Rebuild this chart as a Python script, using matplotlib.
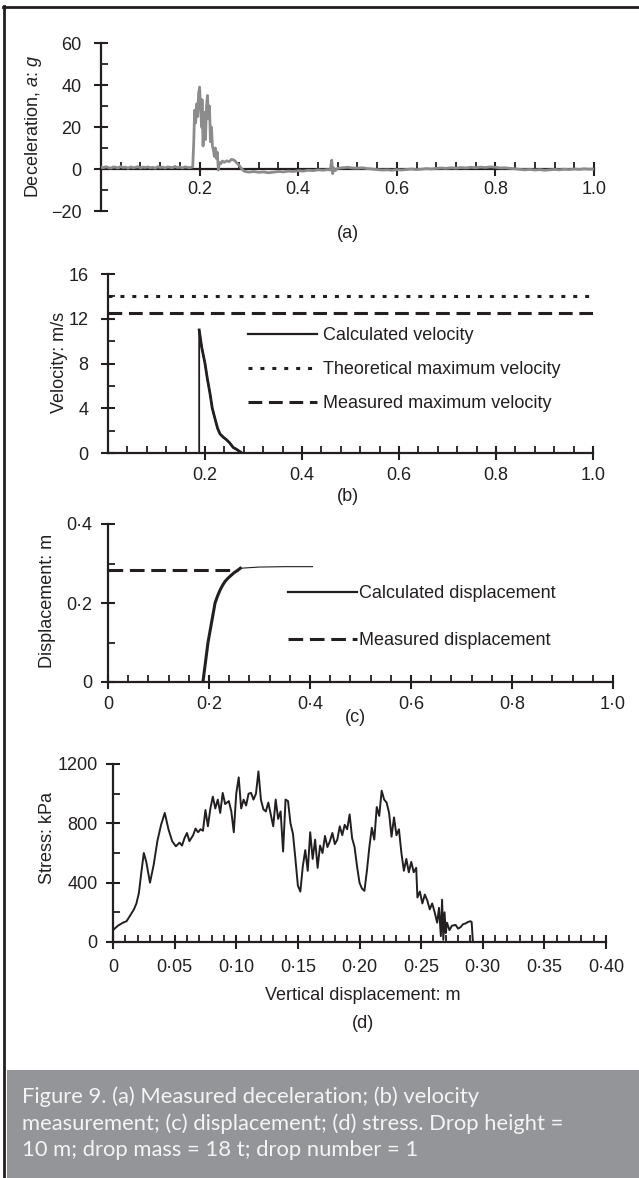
import matplotlib
matplotlib.use("Agg")
import matplotlib.pyplot as plt
from matplotlib.lines import Line2D
from matplotlib.patches import Rectangle
from matplotlib.ticker import MultipleLocator, FixedLocator, FuncFormatter

plt.rcParams['font.family'] = ['Liberation Sans', 'DejaVu Sans']
plt.rcParams['mathtext.fontset'] = 'custom'
plt.rcParams['mathtext.it'] = 'Liberation Sans:italic'
plt.rcParams['mathtext.rm'] = 'Liberation Sans'

INK = '#231f20'
GREY_TRACE = '#8c8c8c'
FS = 13

# (a) measured deceleration, g
acc_t = [0.000, 0.005, 0.010, 0.015, 0.020, 0.025, 0.030, 0.035, 0.040, 0.045,
         0.050, 0.055, 0.060, 0.065, 0.070, 0.075, 0.080, 0.085, 0.090, 0.095,
         0.100, 0.105, 0.110, 0.115, 0.120, 0.125, 0.130, 0.135, 0.140, 0.145,
         0.150, 0.155, 0.160, 0.165, 0.170, 0.175, 0.180, 0.185,
         0.186, 0.188, 0.190, 0.192, 0.194, 0.196, 0.198, 0.200, 0.202, 0.204,
         0.205, 0.207, 0.209, 0.211, 0.212, 0.214, 0.216, 0.218, 0.220, 0.222,
         0.224, 0.226, 0.228, 0.230, 0.232, 0.234, 0.236, 0.238, 0.240, 0.243,
         0.246, 0.250, 0.255, 0.260, 0.265, 0.270, 0.275, 0.280, 0.285, 0.290,
         0.295, 0.300, 0.310, 0.320, 0.330, 0.340, 0.350, 0.360, 0.370, 0.380,
         0.390, 0.400, 0.410, 0.420, 0.430, 0.440, 0.450, 0.460, 0.465, 0.468,
         0.470, 0.472, 0.475, 0.480, 0.490, 0.500, 0.510, 0.520, 0.530, 0.540,
         0.550, 0.560, 0.570, 0.580, 0.590, 0.600, 0.610, 0.620, 0.630, 0.640,
         0.650, 0.660, 0.670, 0.680, 0.690, 0.700, 0.710, 0.720, 0.730, 0.740,
         0.750, 0.760, 0.770, 0.780, 0.790, 0.800, 0.810, 0.820, 0.830, 0.840,
         0.850, 0.860, 0.870, 0.880, 0.890, 0.900, 0.910, 0.920, 0.930, 0.940,
         0.950, 0.960, 0.970, 0.980, 0.990, 1.000]
acc_g = [0.9, 0.6, 1.1, 0.7, 0.4, 1.0, 0.8, 0.5, 1.2, 0.7,
         0.9, 0.4, 1.0, 0.6, 0.8, 1.1, 0.5, 0.9, 0.7, 1.0,
         0.6, 0.8, 0.4, 1.1, 0.7, 0.9, 0.5, 1.0, 0.8, 0.6,
         1.2, 0.7, 0.9, 0.5, 1.0, 0.8, 0.6, 0.9,
         1.0, 12.0, 28.0, 22.0, 31.0, 25.0, 36.0, 39.0, 30.0, 20.0,
         33.0, 11.0, 22.0, 27.0, 14.0, 30.0, 35.0, 24.0, 30.0, 13.0,
         20.0, 11.0, 9.0, 6.0, 10.0, 5.0, 8.0, -0.5, 3.0, 2.5,
         3.8, 3.2, 3.9, 3.5, 4.6, 4.2, 3.0, 1.8, 0.2, -1.0,
         -1.3, -1.5, -1.2, -1.6, -1.4, -1.8, -1.5, -1.2, -1.4, -1.0,
         -1.2, -0.8, -1.0, -0.6, -0.8, -0.4, -0.6, -0.3, -0.5, 4.2,
         -2.2, 0.5, -0.8, 0.3, 0.6, 0.8, 0.5, 0.4, 0.6, 0.2,
         0.0, -0.3, -0.5, -0.4, -0.6, -0.3, -0.5, -0.2, 0.0, -0.3,
         -0.1, 0.2, 0.0, 0.3, 0.5, 0.3, 0.6, 0.4, 0.7, 0.5,
         0.8, 0.6, 0.9, 0.7, 1.0, 0.8, 0.5, 0.6, 0.3, 0.1,
         -0.2, -0.4, -0.2, -0.5, -0.3, -0.6, -0.4, -0.2, -0.4, -0.1,
         -0.3, 0.0, -0.2, 0.1, -0.1, 0.0]

# (b) velocity, m/s
vel_t = [0.188, 0.188, 0.193, 0.200, 0.205, 0.210, 0.215, 0.221, 0.226, 0.231,
         0.238, 0.244, 0.251, 0.258, 0.266, 0.276]
vel_v = [0.0, 11.0, 9.5, 8.0, 6.6, 5.4, 4.0, 3.0, 2.2, 1.7,
         1.4, 1.2, 0.9, 0.5, 0.3, 0.0]
v_theoretical = 14.0
v_measured = 12.5

# (c) displacement, m
disp_t = [0.188, 0.193, 0.198, 0.205, 0.212, 0.217, 0.222, 0.227, 0.232, 0.237,
          0.242, 0.250, 0.257, 0.262, 0.300, 0.350, 0.405]
disp_m = [0.0, 0.05, 0.10, 0.15, 0.20, 0.218, 0.233, 0.245, 0.255, 0.262,
          0.268, 0.277, 0.283, 0.288, 0.291, 0.292, 0.292]
n_thick = 14
d_measured = 0.284
d_measured_x = [0.0, 0.258]

# (d) stress, kPa
stress_x = [0.000, 0.004, 0.008, 0.011, 0.014, 0.017, 0.019, 0.021, 0.023, 0.025,
            0.027, 0.030, 0.033, 0.036, 0.039, 0.042, 0.045, 0.048, 0.051, 0.054,
            0.056, 0.058, 0.060, 0.062, 0.065, 0.067, 0.069, 0.071, 0.073, 0.075,
            0.077, 0.079, 0.081, 0.083, 0.085, 0.087, 0.089, 0.091, 0.094, 0.096,
            0.098, 0.100, 0.102, 0.104, 0.106, 0.108, 0.110, 0.112, 0.114, 0.116,
            0.118, 0.120, 0.122, 0.124, 0.126, 0.128, 0.130, 0.132, 0.134, 0.136,
            0.138, 0.140, 0.142, 0.144, 0.146, 0.148, 0.150, 0.152, 0.154, 0.156,
            0.158, 0.160, 0.162, 0.164, 0.166, 0.168, 0.170, 0.172, 0.174, 0.176,
            0.178, 0.180, 0.182, 0.184, 0.186, 0.188, 0.190, 0.192, 0.194, 0.196,
            0.198, 0.200, 0.202, 0.204, 0.206, 0.208, 0.210, 0.212, 0.214, 0.216,
            0.218, 0.220, 0.222, 0.224, 0.226, 0.228, 0.230, 0.232, 0.234, 0.236,
            0.238, 0.240, 0.242, 0.244, 0.246, 0.247, 0.249, 0.251, 0.253, 0.255,
            0.257, 0.259, 0.261, 0.263, 0.2645, 0.266, 0.267, 0.268, 0.269, 0.270,
            0.271, 0.273, 0.275, 0.278, 0.280, 0.282, 0.284, 0.286, 0.288, 0.290,
            0.291, 0.292]
stress_kpa = [80, 110, 130, 140, 180, 220, 260, 330, 470, 600,
              540, 400, 520, 680, 790, 870, 760, 680, 645, 670,
              650, 700, 735, 680, 720, 765, 740, 760, 750, 890,
              780, 900, 980, 900, 960, 870, 1005, 930, 950, 880,
              740, 1000, 1110, 900, 960, 920, 1000, 1005, 960, 1000,
              1150, 960, 895, 880, 940, 860, 780, 960, 830, 880,
              610, 960, 950, 800, 730, 560, 380, 340, 510, 620,
              480, 740, 560, 690, 500, 650, 600, 715, 640, 680,
              735, 660, 690, 780, 720, 790, 760, 860, 700, 640,
              510, 400, 360, 345, 480, 640, 770, 690, 910, 850,
              1020, 960, 940, 870, 710, 840, 720, 760, 600, 480,
              560, 470, 540, 470, 500, 300, 340, 260, 320, 280,
              220, 260, 200, 130, 230, 40, 285, 15, 200, 60,
              130, 80, 110, 115, 90, 100, 120, 125, 135, 140,
              135, 0]

W, H = 639, 1178
fig = plt.figure(figsize=(W / 100, H / 100), dpi=100)


def make_axes(x0, x1, ytop, ybot):
    return fig.add_axes([x0 / W, 1 - ybot / H, (x1 - x0) / W, (ybot - ytop) / H])


def style(ax, xpad, ypad):
    for s in ['top', 'right']:
        ax.spines[s].set_visible(False)
    for s in ['left', 'bottom']:
        ax.spines[s].set_linewidth(1.6)
        ax.spines[s].set_color(INK)
    ax.tick_params(which='major', direction='inout', length=10, width=1.5,
                   colors=INK, labelsize=FS, labelcolor=INK)
    ax.tick_params(which='minor', direction='in', length=5, width=1.3, colors=INK)
    ax.tick_params(axis='x', which='major', pad=xpad)
    ax.tick_params(axis='y', which='major', pad=ypad)
    ax.set_facecolor('none')


def dot_fmt(fmt):
    return FuncFormatter(lambda v, p: '0' if abs(v) < 1e-9 else (fmt % v).replace('.', '\u00b7'))


# ---- (a)
ax = make_axes(101, 594, 43, 211)
style(ax, 4, 9)
ax.spines['bottom'].set_position(('data', 0))
ax.plot(acc_t, acc_g, color=GREY_TRACE, lw=2.0, zorder=3)
ax.set_xlim(0, 1.0)
ax.set_ylim(-20, 60)
ax.xaxis.set_major_locator(FixedLocator([0.2, 0.4, 0.6, 0.8, 1.0]))
ax.xaxis.set_minor_locator(FixedLocator([0.04 * i for i in range(1, 25) if i % 5]))
ax.xaxis.set_major_formatter(FuncFormatter(lambda v, p: '%.1f' % v))
ax.yaxis.set_major_locator(MultipleLocator(20))
ax.yaxis.set_minor_locator(MultipleLocator(10))
fig.text(33 / W, 1 - 127 / H, 'Deceleration, $a$: $g$', rotation=90,
         ha='center', va='center', fontsize=FS, color=INK)
fig.text(348 / W, 1 - 233 / H, '(a)', ha='center', va='center', fontsize=FS, color=INK)

# ---- (b)
ax = make_axes(108, 593, 274, 453)
style(ax, 5, 9)
ax.plot(vel_t, vel_v, color=INK, lw=1.3, label='Calculated velocity')
ax.plot(vel_t[1:], vel_v[1:], color=INK, lw=2.0)
ax.axhline(v_theoretical, color=INK, lw=2.2, linestyle=(0, (1.3, 2.6)),
           label='Theoretical maximum velocity')
ax.axhline(v_measured, color=INK, lw=2.2, linestyle=(0, (4.5, 2.2)),
           label='Measured maximum velocity')
ax.set_xlim(0, 1.0)
ax.set_ylim(0, 16)
ax.xaxis.set_major_locator(FixedLocator([0.2, 0.4, 0.6, 0.8, 1.0]))
ax.xaxis.set_minor_locator(FixedLocator([0.04 * i for i in range(1, 25) if i % 5]))
ax.xaxis.set_major_formatter(FuncFormatter(lambda v, p: '%.1f' % v))
ax.yaxis.set_major_locator(MultipleLocator(4))
ax.yaxis.set_minor_locator(MultipleLocator(2))
h = ax.get_legend_handles_labels()
leg = ax.legend(*h, loc='upper left', bbox_to_anchor=((248 - 108) / 485, (453 - 327) / 179),
                frameon=False, fontsize=FS, handlelength=3.8, handletextpad=0.33,
                labelspacing=0.94, borderpad=0, borderaxespad=0)
for t in leg.get_texts():
    t.set_color(INK)
leg.get_lines()[0].set_linewidth(1.6)
fig.text(59 / W, 1 - 362 / H, 'Velocity: m/s', rotation=90,
         ha='center', va='center', fontsize=FS, color=INK)
fig.text(348 / W, 1 - 497 / H, '(b)', ha='center', va='center', fontsize=FS, color=INK)

# ---- (c)
ax = make_axes(108, 613, 524, 682)
style(ax, 5, 6)
ax.plot(disp_t[:n_thick], disp_m[:n_thick], color=INK, lw=2.2, label='Calculated displacement')
ax.plot(disp_t[n_thick - 1:], disp_m[n_thick - 1:], color=INK, lw=0.8)
ax.plot(d_measured_x, [d_measured, d_measured], color=INK, lw=2.2,
        linestyle=(0, (4.8, 2.2)), label='Measured displacement')
ax.set_xlim(0, 1.0)
ax.set_ylim(0, 0.4)
ax.xaxis.set_major_locator(MultipleLocator(0.2))
ax.xaxis.set_minor_locator(FixedLocator([0.04 * i for i in range(1, 25) if i % 5]))
ax.xaxis.set_major_formatter(dot_fmt('%.1f'))
ax.yaxis.set_major_locator(MultipleLocator(0.2))
ax.yaxis.set_minor_locator(MultipleLocator(0.1))
ax.yaxis.set_major_formatter(dot_fmt('%.1f'))
h = ax.get_legend_handles_labels()
leg = ax.legend(*h, loc='upper left', bbox_to_anchor=((288 - 108) / 505, (682 - 585) / 158),
                frameon=False, fontsize=FS, handlelength=3.8, handletextpad=0.15,
                labelspacing=1.67, borderpad=0, borderaxespad=0)
for t in leg.get_texts():
    t.set_color(INK)
leg.get_lines()[0].set_linewidth(1.6)
fig.text(47 / W, 1 - 601 / H, 'Displacement: m', rotation=90,
         ha='center', va='center', fontsize=FS, color=INK)
fig.text(355 / W, 1 - 717 / H, '(c)', ha='center', va='center', fontsize=FS, color=INK)

# ---- (d)
ax = make_axes(113, 606, 764, 942)
style(ax, 7, 6)
ax.plot(stress_x, stress_kpa, color=INK, lw=1.4)
ax.set_xlim(0, 0.40)
ax.set_ylim(0, 1200)
ax.xaxis.set_major_locator(MultipleLocator(0.05))
ax.xaxis.set_minor_locator(MultipleLocator(0.01))
ax.xaxis.set_major_formatter(dot_fmt('%.2f'))
ax.yaxis.set_major_locator(MultipleLocator(400))
ax.yaxis.set_minor_locator(MultipleLocator(200))
fig.text(47 / W, 1 - 838 / H, 'Stress: kPa', rotation=90,
         ha='center', va='center', fontsize=FS, color=INK)
fig.text(363 / W, 1 - 996 / H, 'Vertical displacement: m', ha='center', va='center',
         fontsize=FS, color=INK)
fig.text(363 / W, 1 - 1023 / H, '(d)', ha='center', va='center', fontsize=FS, color=INK)

# ---- frame and caption
fig.add_artist(Rectangle((7 / W, 0), 1 - 7 / W, (H - 1070) / H, transform=fig.transFigure,
                         facecolor='#939598', edgecolor='none'))
fig.add_artist(Line2D([4 / W, 4 / W], [0, 1 - 6 / H], transform=fig.transFigure,
                      color=INK, lw=2.0))
fig.add_artist(Line2D([3 / W, 1], [1 - 7 / H, 1 - 7 / H], transform=fig.transFigure,
                      color=INK, lw=2.0))
caption = ['Figure 9. (a) Measured deceleration; (b) velocity',
           'measurement; (c) displacement; (d) stress. Drop height =',
           '10 m; drop mass = 18 t; drop number = 1']
for i, line in enumerate(caption):
    fig.text(22 / W, 1 - (1097 + 26.5 * i) / H, line, ha='left', va='center',
             fontsize=15.8, color='#f4f4f4', family=['Lato', 'DejaVu Sans'])

fig.savefig('out.png', dpi=100)
